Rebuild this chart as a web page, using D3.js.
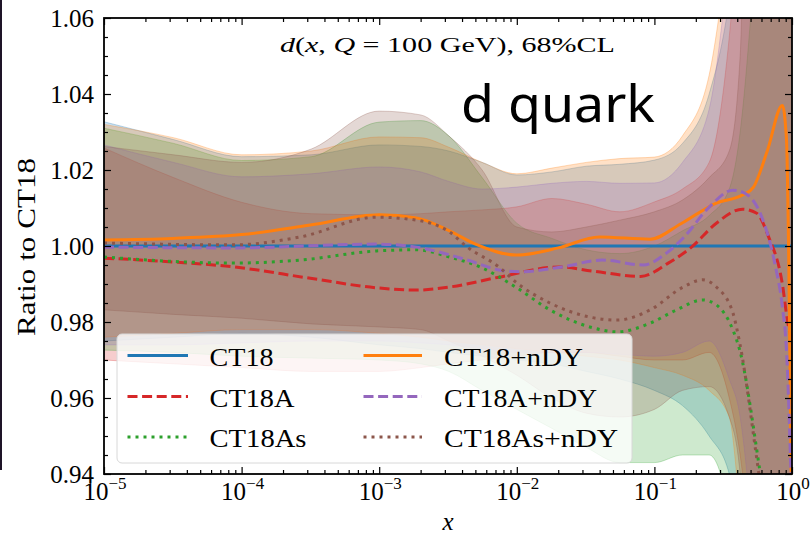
<!DOCTYPE html>
<html><head><meta charset="utf-8">
<script src="https://cdn.jsdelivr.net/npm/d3@7/dist/d3.min.js"></script>
<style>body{margin:0;background:#fff}svg{display:block}
.serif{font-family:"Liberation Serif","Times New Roman",serif}
.sans{font-family:"Noto Sans","Open Sans",sans-serif}
</style>
</head><body>
<svg id="chart" width="810" height="534"></svg>
<script>
// ---------------- data ----------------
const seriesNames = ["CT18","CT18A","CT18As","CT18+nDY","CT18A+nDY","CT18As+nDY"];
const seriesColors = ["#1f77b4","#d62728","#2ca02c","#ff7f0e","#9467bd","#8c564b"];
const seriesDash = ["solid","dashed","dotted","solid","dashed","dotted"];

const yTicks = [0.94,0.96,0.98,1.00,1.02,1.04,1.06];
const xTicks = [1e-5,1e-4,1e-3,1e-2,1e-1,1];
const xTickExp = ["\u22125","\u22124","\u22123","\u22122","\u22121","0"];

// uncertainty bands (common x grid)
const bandX = [1e-5,3.2e-5,1e-4,3.2e-4,1e-3,2e-3,3.2e-3,5.6e-3,1e-2,1.8e-2,3.2e-2,5.6e-2,0.1,0.16,0.25,0.35,0.42,0.5,0.7,1.0];
const bandUpper = [
  [1.0327,1.028,1.0235,1.024,1.0266,1.0262,1.025,1.022,1.0187,1.0195,1.021,1.0215,1.0226,1.027,1.04,1.065,1.09,1.12,1.15,1.15],
  [1.0258,1.018,1.0115,1.0085,1.0082,1.0085,1.009,1.0095,1.0103,1.0125,1.011,1.009,1.0116,1.015,1.022,1.055,1.09,1.12,1.15,1.15],
  [1.031,1.027,1.0225,1.0235,1.0326,1.033,1.029,1.018,1.006,1.002,0.999,0.998,1.0,1.004,1.008,1.015,1.03,1.06,1.15,1.15],
  [1.032,1.0285,1.024,1.025,1.0287,1.0285,1.026,1.022,1.019,1.0205,1.022,1.023,1.0234,1.029,1.045,1.08,1.10,1.13,1.15,1.15],
  [1.0266,1.022,1.0182,1.019,1.0208,1.0195,1.017,1.015,1.0155,1.0165,1.017,1.0165,1.0166,1.022,1.036,1.075,1.10,1.13,1.15,1.15],
  [1.0262,1.024,1.022,1.0255,1.0355,1.0345,1.029,1.02,1.005,1.0037,1.005,1.0068,1.009,1.0121,1.018,1.025,1.05,1.15,1.15,1.15]
];
const bandLower = [
  [0.975,0.976,0.977,0.976,0.974,0.973,0.972,0.971,0.970,0.969,0.967,0.965,0.962,0.958,0.950,0.940,0.925,0.90,0.85,0.85],
  [0.970,0.969,0.968,0.967,0.967,0.968,0.969,0.970,0.971,0.972,0.972,0.971,0.970,0.970,0.972,0.960,0.945,0.92,0.85,0.85],
  [0.9726,0.972,0.971,0.9705,0.970,0.969,0.967,0.962,0.957,0.952,0.947,0.943,0.943,0.945,0.945,0.930,0.91,0.88,0.85,0.85],
  [0.976,0.977,0.978,0.978,0.977,0.976,0.975,0.974,0.973,0.972,0.971,0.970,0.968,0.966,0.962,0.955,0.93,0.90,0.85,0.85],
  [0.974,0.974,0.9745,0.975,0.975,0.9745,0.974,0.973,0.972,0.972,0.972,0.9715,0.971,0.972,0.975,0.965,0.955,0.93,0.85,0.85],
  [0.9832,0.982,0.981,0.9795,0.9787,0.978,0.975,0.971,0.966,0.960,0.956,0.955,0.957,0.962,0.963,0.955,0.94,0.88,0.85,0.85]
];

// central values
const ct18X = [1e-5,1];
const ct18Y = [1.0,1.0];
const ct18aX = [1e-5,3.16e-5,8.71e-5,3.16e-4,9.55e-4,1.86e-3,3.24e-3,7.41e-3,2.04e-2,3.55e-2,7.94e-2,0.126,0.186,0.282,0.437,0.550,0.676,0.851,0.933,1.0];
const ct18aY = [0.9968,0.9958,0.9945,0.9915,0.989,0.9884,0.9892,0.9918,0.9945,0.9934,0.992,0.9955,0.9997,1.006,1.0097,1.0087,1.0024,0.990,0.9797,0.975];
const ct18asX = [1e-5,8.71e-5,2.69e-4,9.55e-4,1.86e-3,3.24e-3,5.62e-3,1e-2,1.74e-2,3.39e-2,5.37e-2,9.33e-2,0.145,0.224,0.282,0.372,0.417,0.589,1.0];
const ct18asY = [0.9971,0.9955,0.9963,0.9987,0.999,0.9971,0.9942,0.989,0.9832,0.9787,0.9774,0.9797,0.9832,0.9858,0.9845,0.9779,0.9726,0.94,0.88];
const ct18nX = [1e-5,3.16e-5,1e-4,3.16e-4,1e-3,1.86e-3,3.16e-3,5.01e-3,1e-2,2e-2,3.98e-2,9.33e-2,0.158,0.282,0.437,0.525,0.661,0.851,0.912,0.944,0.973,1.0];
const ct18nY = [1.0016,1.002,1.003,1.0055,1.0082,1.0074,1.0042,1.0005,0.9976,0.9995,1.0024,1.0018,1.006,1.0113,1.0134,1.0155,1.025,1.037,1.028,1.0,0.96,0.92];
const ct18anX = [1e-5,8.71e-5,9.55e-4,1.86e-3,4.37e-3,7.41e-3,1.05e-2,2.14e-2,4.17e-2,8.32e-2,0.123,0.162,0.251,0.372,0.437,0.603,0.759,0.851,0.912,1.0];
const ct18anY = [0.9997,0.9995,1.0005,0.9997,0.9963,0.9937,0.9932,0.9945,0.9963,0.995,0.9982,1.0021,1.0103,1.0147,1.0142,1.0076,0.9945,0.984,0.9726,0.93];
const ct18asnX = [1e-5,8.71e-5,2.69e-4,9.55e-4,1.86e-3,3.24e-3,4.37e-3,7.41e-3,1e-2,1.74e-2,3.39e-2,5.37e-2,9.33e-2,0.162,0.224,0.282,0.372,0.417,0.575,1.0];
const ct18asnY = [1.0008,1.0003,1.0024,1.0076,1.0068,1.0037,0.9997,0.9945,0.9903,0.985,0.9813,0.9805,0.9832,0.9892,0.9911,0.9892,0.9824,0.9745,0.94,0.88];

const lineXs = [ct18X, ct18aX, ct18asX, ct18nX, ct18anX, ct18asnX];
const lineYs = [ct18Y, ct18aY, ct18asY, ct18nY, ct18anY, ct18asnY];

// ---------------- drawing ----------------
const svg = d3.select("#chart");
const L = 104, R = 792, T = 18, B = 474;
const x = d3.scaleLog().domain([1e-5, 1]).range([L, R]);
const y = d3.scaleLinear().domain([0.94, 1.06]).range([B, T]);

// left crop artifact
svg.append("rect").attr("x",0).attr("y",0).attr("width",2).attr("height",470).attr("fill","#1e1428");

svg.append("defs").append("clipPath").attr("id","plotclip")
  .append("rect").attr("x",L).attr("y",T).attr("width",R-L).attr("height",B-T);

const plot = svg.append("g").attr("clip-path","url(#plotclip)");

// bands
const area = d3.area().x(d => x(d[0])).y0(d => y(d[1])).y1(d => y(d[2])).curve(d3.curveMonotoneX);
seriesNames.forEach((n, i) => {
  const data = bandX.map((bx, k) => [bx, bandLower[i][k], bandUpper[i][k]]);
  plot.append("path").attr("d", area(data))
    .attr("fill", seriesColors[i]).attr("fill-opacity", 0.23)
    .attr("stroke", seriesColors[i]).attr("stroke-opacity", 0.28).attr("stroke-width", 1);
});

// central lines
const line = d3.line().x(d => x(d[0])).y(d => y(d[1])).curve(d3.curveMonotoneX);
const dashFor = s => s === "dashed" ? "10,4.6" : (s === "dotted" ? "3,5" : null);
seriesNames.forEach((n, i) => {
  const data = lineXs[i].map((lx, k) => [lx, lineYs[i][k]]);
  plot.append("path").attr("d", line(data))
    .attr("fill","none").attr("stroke", seriesColors[i]).attr("stroke-width", 3)
    .attr("stroke-dasharray", dashFor(seriesDash[i]));
});

// axes with inward ticks
const isDecade = v => Math.abs(Math.log10(v) - Math.round(Math.log10(v))) < 1e-6;
const minorX = x.ticks().filter(v => !isDecade(v));
const minorY = d3.range(0.94, 1.0601, 0.005).filter(v => Math.abs(v*50 - Math.round(v*50)) > 1e-6);

function styleAxis(g) {
  g.select(".domain").remove();
  g.selectAll(".tick line").attr("stroke","#000").attr("stroke-width",1.2);
}
const axisDefs = [
  [d3.axisBottom, x, xTicks, minorX, `translate(0,${B})`],
  [d3.axisTop, x, xTicks, minorX, `translate(0,${T})`],
  [d3.axisLeft, y, yTicks, minorY, `translate(${L},0)`],
  [d3.axisRight, y, yTicks, minorY, `translate(${R},0)`]
];
axisDefs.forEach(([fn, sc, maj, mn, tr]) => {
  svg.append("g").attr("transform", tr).call(fn(sc).tickValues(maj).tickSize(-7).tickFormat("")).call(styleAxis);
  svg.append("g").attr("transform", tr).call(fn(sc).tickValues(mn).tickSize(-4).tickFormat("")).call(styleAxis);
});

// frame
svg.append("rect").attr("x",L).attr("y",T).attr("width",R-L).attr("height",B-T)
  .attr("fill","none").attr("stroke","#000").attr("stroke-width",1.8);

// y tick labels
svg.append("g").selectAll("text").data(yTicks).join("text")
  .attr("class","serif")
  .attr("x", 94).attr("y", d => y(d) + 8.5)
  .attr("text-anchor","end").style("font-size","25px")
  .text(d => d.toFixed(2));

// x tick labels
const xl = svg.append("g").selectAll("text").data(xTicks).join("text")
  .attr("class","serif")
  .attr("x", d => x(d) + 1).attr("y", 500)
  .attr("text-anchor","middle").style("font-size","25px");
xl.append("tspan").text("10");
xl.append("tspan").attr("dy",-11).style("font-size","17px").text((d,i) => xTickExp[i]);

// axis titles
svg.append("text").attr("class","serif").attr("x", 448).attr("y", 530).attr("text-anchor","middle")
  .style("font-style","italic").style("font-size","25px").text("x");
svg.append("text").attr("class","serif").attr("transform","translate(35,247) rotate(-90)").attr("text-anchor","middle")
  .style("font-size","25px").attr("textLength",178).attr("lengthAdjust","spacingAndGlyphs")
  .text("Ratio to CT18");

// in-plot title
const tt = svg.append("text").attr("class","serif").attr("x", 280).attr("y", 52).style("font-size","22px")
  .attr("textLength",335).attr("lengthAdjust","spacingAndGlyphs");
tt.append("tspan").style("font-style","italic").text("d");
tt.append("tspan").text("(");
tt.append("tspan").style("font-style","italic").text("x");
tt.append("tspan").text(", ");
tt.append("tspan").style("font-style","italic").text("Q");
tt.append("tspan").text(" = 100 GeV),  68%CL");

svg.append("text").attr("class","sans").attr("x", 461).attr("y", 122)
  .style("font-size","51px").attr("fill","#000").attr("textLength",194).attr("lengthAdjust","spacingAndGlyphs")
  .text("d quark");

// legend
const leg = svg.append("g");
leg.append("rect").attr("x",117).attr("y",334).attr("width",515).attr("height",129).attr("rx",5)
  .attr("fill","#fff").attr("fill-opacity",0.8).attr("stroke","#d8d8d8").attr("stroke-width",1);
const legCols = [[127.5,188,209.5],[363.5,422,444]];
const legRowsLine = [355.5,396.5,437];
const legRowsText = [366,407,447];
const legWidths = [64,85,97,139,153,174];
seriesNames.forEach((n,i) => {
  const c = legCols[Math.floor(i/3)], r = i % 3;
  leg.append("line").attr("x1",c[0]).attr("x2",c[1]).attr("y1",legRowsLine[r]).attr("y2",legRowsLine[r])
    .attr("stroke",seriesColors[i]).attr("stroke-width",3).attr("stroke-dasharray",dashFor(seriesDash[i]));
  leg.append("text").attr("class","serif").attr("x",c[2]).attr("y",legRowsText[r]).style("font-size","26px")
    .attr("textLength",legWidths[i]).attr("lengthAdjust","spacingAndGlyphs").text(n);
});
</script>
</body></html>
